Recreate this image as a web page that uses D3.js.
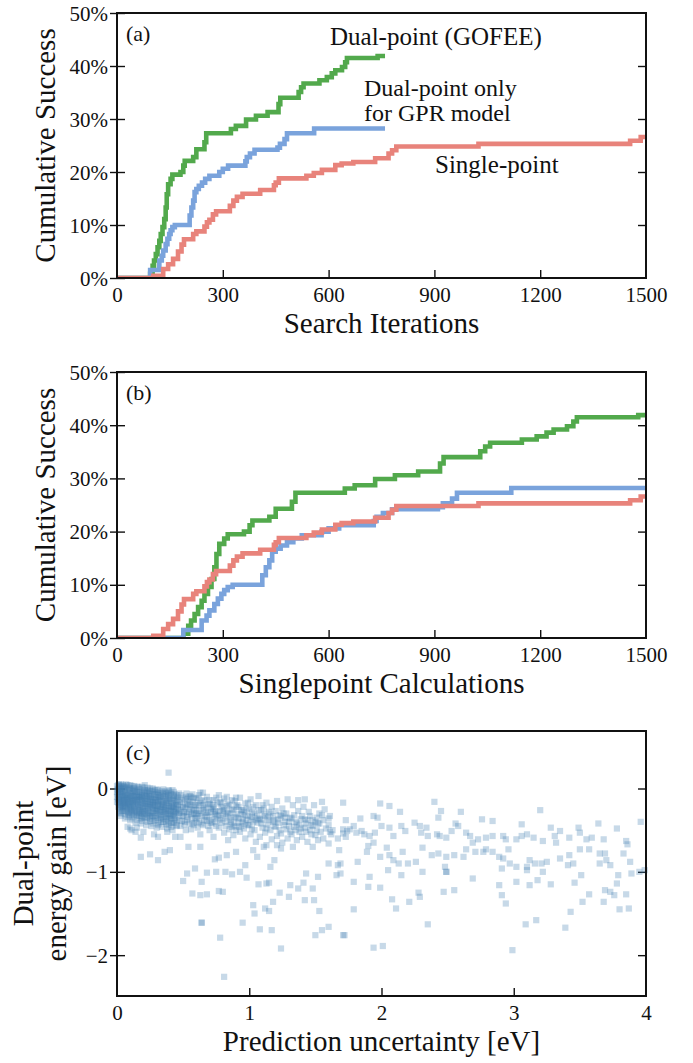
<!DOCTYPE html>
<html>
<head>
<meta charset="utf-8">
<script src="https://cdn.jsdelivr.net/npm/d3@7"></script>
<style>
  body { margin: 0; background: #fff; }
</style>
</head>
<body>
<svg id="fig" width="693" height="1063"></svg>
<script>
// success curves: [search iteration, cumulative success %]
let gofee = [[0,0],[86,0],[94,0.8],[101,2.3],[105,3.3],[110,4.5],[115,5.8],[120,7],[124,8.3],[129,9.6],[134,11.1],[138,13.3],[141,15.8],[145,17.7],[152,18.7],[157,19.5],[180,20],[188,21.2],[192,22.1],[216,22.8],[225,24.3],[248,25.6],[253,27.3],[323,28.1],[337,28.7],[366,29.9],[394,30.6],[427,31.3],[458,32.8],[463,34],[515,35.1],[522,36],[529,36.7],[574,37.3],[595,37.9],[609,38.6],[619,39.2],[638,39.8],[647,40.7],[652,41.5],[739,41.9],[760,41.9]];
let dualGpr = [[0,0],[89,0],[94,1.5],[120,3.3],[127,4.2],[131,5.2],[138,6.4],[143,7.4],[148,8.3],[152,9],[157,9.6],[164,10],[206,11.8],[211,13.3],[216,14.6],[220,16.2],[225,16.8],[232,17.4],[241,18],[250,18.7],[262,19.3],[290,20],[300,20.6],[315,21.2],[364,22],[368,22.8],[377,23.5],[390,24.2],[455,24.6],[462,25.3],[475,26.2],[482,27.3],[559,28.2],[760,28.2]];
let single = [[0,0],[94,0],[103,0.4],[131,1.7],[145,2.6],[159,3.6],[173,5],[183,6.3],[190,7.3],[216,8.3],[225,8.8],[248,9.7],[255,10.5],[262,11],[272,12],[281,12.6],[320,13.6],[330,14.6],[340,15.3],[356,15.9],[406,16.6],[445,17.5],[450,18],[459,18.8],[537,19.3],[558,19.8],[581,20.4],[619,21.3],[637,21.6],[670,21.9],[732,22.6],[770,23.5],[780,24.1],[792,24.8],[1025,25.3],[1455,25.9],[1485,26.6],[1500,26.6]];

let curves = [gofee, dualGpr, single];
let curveColors = ["#52a94c", "#7aa3dc", "#e8837b"];
// DFT singlepoints spent per search iteration (panel b)
let calcsPerIteration = [2, 2, 1];

let iterTicks = [0, 300, 600, 900, 1200, 1500];
let successTicks = [0, 10, 20, 30, 40, 50];
let uncertTicks = [0, 1, 2, 3, 4];
let gainTicks = [0, -1, -2];

// panel (c): [prediction uncertainty eV, dual-point energy gain eV]
let gainCore = [[0,.03],[0,-.04],[0,-.1],[0,-.16],
[.01,.04],[.01,-.02],[.01,-.08],[.01,-.12],[.01,-.17],[.01,-.22],
[.02,.02],[.02,-.05],[.02,-.1],[.02,-.15],[.02,-.2],[.02,-.26],
[.03,.05],[.03,-.01],[.03,-.07],[.03,-.13],[.03,-.19],[.03,-.24],[.03,-.3],
[.05,.03],[.05,-.04],[.05,-.09],[.05,-.14],[.05,-.21],[.05,-.27],
[.06,0],[.06,-.06],[.06,-.11],[.06,-.17],[.06,-.23],[.06,-.31],
[.08,.04],[.08,-.02],[.08,-.08],[.08,-.16],[.08,-.2],[.08,-.28],[.08,-.34],
[.1,.01],[.1,-.05],[.1,-.12],[.1,-.18],[.1,-.24],[.1,-.3],
[.11,.03],[.11,-.09],[.11,-.14],[.11,-.22],[.11,-.27],[.11,-.36],
[.13,0],[.13,-.06],[.13,-.11],[.13,-.19],[.13,-.25],[.13,-.32],
[.15,.02],[.15,-.04],[.15,-.1],[.15,-.16],[.15,-.21],[.15,-.29],[.15,-.38],
[.17,-.01],[.17,-.08],[.17,-.13],[.17,-.2],[.17,-.26],[.17,-.33],
[.19,.02],[.19,-.05],[.19,-.11],[.19,-.17],[.19,-.24],[.19,-.3],[.19,-.39],
[.21,-.02],[.21,-.09],[.21,-.15],[.21,-.21],[.21,-.28],[.21,-.35],
[.23,.01],[.23,-.06],[.23,-.12],[.23,-.19],[.23,-.25],[.23,-.32],[.23,-.4],
[.25,-.03],[.25,-.1],[.25,-.16],[.25,-.22],[.25,-.29],[.25,-.36],
[.27,0],[.27,-.07],[.27,-.13],[.27,-.2],[.27,-.27],[.27,-.33],[.27,-.42],
[.29,-.04],[.29,-.11],[.29,-.17],[.29,-.24],[.29,-.3],[.29,-.38],
[.31,-.02],[.31,-.08],[.31,-.14],[.31,-.21],[.31,-.27],[.31,-.35],[.31,-.44],
[.33,-.05],[.33,-.12],[.33,-.19],[.33,-.25],[.33,-.32],[.33,-.4],
[.35,-.01],[.35,-.09],[.35,-.16],[.35,-.22],[.35,-.29],[.35,-.37],
[.37,-.06],[.37,-.13],[.37,-.2],[.37,-.27],[.37,-.34],[.37,-.43],
[.39,-.03],[.39,-.1],[.39,-.17],[.39,-.24],[.39,-.31],[.39,-.39],
[.41,-.07],[.41,-.14],[.41,-.21],[.41,-.28],[.41,-.36],[.41,-.46],
[.43,-.04],[.43,-.11],[.43,-.18],[.43,-.25],[.43,-.33],[.43,-.41],
[.45,-.08],[.45,-.15],[.45,-.22],[.45,-.3],[.45,-.38],
[.005,-.06],[.015,-.13],[.025,-.03],[.035,-.16],[.04,-.09],[.045,-.22],[.055,-.12],[.065,-.03],[.07,-.19],[.075,-.25],
[.085,-.11],[.09,-.05],[.095,-.22],[.105,-.15],[.12,-.03],[.12,-.2],[.125,-.28],[.14,-.08],[.14,-.14],[.145,-.24],
[.16,-.06],[.16,-.18],[.165,-.3],[.18,-.1],[.18,-.22],[.2,-.13],[.2,-.27],[.22,-.04],[.22,-.17],[.24,-.09],
[.24,-.23],[.26,-.14],[.26,-.31],[.28,-.1],[.28,-.2],[.3,-.16],[.3,-.25],[.32,-.1],[.34,-.2],[.36,-.26],
[.38,-.15],[.4,-.32],[.42,-.22],[.44,-.28],[.02,-.29],[.04,0],[.07,-.13],[.09,-.32],[.12,-.09],[.18,-.35],
[.012,.01],[.018,-.07],[.022,-.18],[.028,.03],[.033,-.11],[.038,-.23],[.042,-.05],[.047,-.15],[.052,.01],[.057,-.19],
[.062,-.08],[.067,-.27],[.072,.02],[.077,-.1],[.082,-.17],[.087,-.24],[.092,-.01],[.097,-.13],[.102,-.21],[.107,-.07],
[.112,-.3],[.117,-.16],[.122,0],[.127,-.12],[.132,-.23],[.137,-.04],[.142,-.18],[.147,-.31],[.152,-.09],[.157,-.14],
[.162,-.26],[.167,0],[.172,-.11],[.177,-.19],[.182,-.29],[.187,-.06],[.192,-.14],[.197,-.22],[.202,-.34],[.207,-.03],
[.212,-.12],[.217,-.24],[.222,-.3],[.227,-.09],[.232,-.16],[.237,-.27],[.242,-.05],[.247,-.19],[.252,-.33],[.257,-.12],
[.262,-.23],[.267,-.03],[.272,-.17],[.277,-.29],[.282,-.07],[.287,-.21],[.292,-.35],[.297,-.13],[.302,-.26],[.307,-.05],
[.312,-.18],[.317,-.31],[.322,-.1],[.327,-.23],[.332,-.37],[.337,-.15],[.342,-.28],[.347,-.06],[.352,-.19],[.357,-.33],
[.362,-.11],[.367,-.24],[.372,-.4],[.377,-.17],[.382,-.3],[.387,-.08],[.392,-.21],[.397,-.36],[.402,-.12],[.407,-.26],
[.412,-.41],[.417,-.18],[.422,-.31],[.427,-.09],[.432,-.23],[.437,-.37],[.442,-.14],[.447,-.27],[.452,-.44],
[.015,.05],[.045,.04],[.07,.05],[.1,.04],[.13,.03],[.16,.02],[.2,.01],[.25,0],[.3,-.01],[.34,-.03],[.38,-.05],[.42,-.02],
[.03,-.33],[.06,-.36],[.1,-.38],[.14,-.41],[.18,-.42],[.22,-.44],[.26,-.45],[.3,-.47],[.34,-.46],[.38,-.48],[.42,-.5],
[.005,-.01],[.01,-.14],[.02,0],[.025,-.22],[.035,-.04],[.04,-.27],[.05,-.17],[.055,.02],[.06,-.14],[.065,-.21],
[.07,-.07],[.08,-.12],[.085,-.29],[.09,-.19],[.095,0],[.105,-.09],[.11,-.26],[.115,-.04],[.12,-.17],[.125,-.34],
[.13,-.15],[.135,-.27],[.14,-.02],[.15,-.13],[.155,-.33],[.16,-.22],[.165,-.1],[.17,-.04],[.175,-.28],[.18,-.15],
[.185,-.36],[.19,-.08],[.195,-.27],[.2,-.19],[.205,-.06],[.21,-.31],[.215,-.18],[.22,-.1],[.225,-.36],[.23,-.21],
[.235,-.02],[.24,-.29],[.245,-.13],[.25,-.39],[.255,-.07],[.26,-.2],[.265,-.34],[.27,-.16],[.275,-.24],[.28,-.39],
[.285,-.02],[.29,-.14],[.295,-.27],[.3,-.07],[.305,-.33],[.31,-.2],[.315,-.42],[.32,-.15],[.325,-.28],[.33,-.08],
[.335,-.35],[.34,-.22],[.345,-.13],[.35,-.4],[.355,-.26],[.36,-.04],[.365,-.31],[.37,-.18],[.375,-.09],[.38,-.36],
[.385,-.24],[.39,-.44],[.395,-.13],[.4,-.27],[.405,-.05],[.41,-.33],[.415,-.22],[.42,-.42],[.425,-.15],[.43,-.29],
[.435,-.07],[.44,-.35],[.445,-.2],[.45,-.45]];

let gainBand = [[.47,-.06],[.49,-.14],[.46,-.25],[.5,-.33],[.48,-.45],[.46,-.19],[.49,-.39],[.47,-.29],
[.52,-.1],[.54,-.19],[.51,-.28],[.53,-.38],[.52,-.5],[.55,-.24],[.53,-.13],[.51,-.43],
[.57,-.07],[.55,-.16],[.58,-.23],[.56,-.31],[.57,-.42],[.59,-.36],[.56,-.49],[.58,-.11],
[.61,-.12],[.6,-.2],[.62,-.27],[.6,-.36],[.61,-.47],[.63,-.17],[.62,-.4],[.6,-.3],
[.65,-.05],[.64,-.15],[.66,-.24],[.64,-.33],[.65,-.44],[.63,-.55],[.67,-.29],[.66,-.38],
[.68,-.1],[.7,-.19],[.69,-.29],[.68,-.39],[.7,-.5],[.71,-.24],[.69,-.45],
[.73,-.14],[.72,-.22],[.74,-.31],[.72,-.42],[.73,-.58],[.75,-.36],[.74,-.27],
[.77,-.08],[.76,-.18],[.78,-.27],[.75,-.45],[.77,-.47],[.79,-.22],[.78,-.38],
[.81,-.12],[.8,-.24],[.82,-.33],[.79,-.41],[.81,-.53],[.83,-.28],[.82,-.45],
[.85,-.2],[.84,-.3],[.86,-.38],[.85,-.49],[.84,-.62],[.87,-.25],[.86,-.43],
[.89,-.15],[.88,-.26],[.9,-.35],[.89,-.45],[.88,-.56],[.91,-.3],[.9,-.5],
[.93,-.11],[.92,-.22],[.94,-.31],[.92,-.41],[.93,-.52],[.95,-.36],[.94,-.45],
[.97,-.18],[.96,-.28],[.98,-.38],[.96,-.48],[.97,-.6],[.99,-.33],[.98,-.24],
[1.01,-.13],[1,-.25],[1.02,-.34],[1,-.44],[1.01,-.55],[1.03,-.4],[1.02,-.29],
[1.05,-.2],[1.04,-.3],[1.06,-.41],[1.04,-.5],[1.05,-.64],[1.07,-.36],
[1.09,-.26],[1.08,-.37],[1.1,-.47],[1.08,-.58],[1.11,-.31],[1.1,-.2],
[1.13,-.17],[1.12,-.33],[1.14,-.43],[1.12,-.53],[1.13,-.68],[1.15,-.38],
[1.17,-.22],[1.16,-.3],[1.18,-.4],[1.16,-.5],[1.17,-.61],[1.19,-.45],
[1.21,-.15],[1.2,-.27],[1.22,-.37],[1.2,-.46],[1.21,-.57],[1.23,-.32],
[1.25,-.24],[1.24,-.33],[1.26,-.44],[1.24,-.54],[1.25,-.65],[1.27,-.4],
[1.29,-.13],[1.28,-.3],[1.3,-.4],[1.28,-.49],[1.29,-.6],[1.31,-.35],
[1.33,-.2],[1.32,-.36],[1.34,-.46],[1.32,-.55],[1.33,-.7],[1.35,-.5],
[1.37,-.27],[1.36,-.42],[1.38,-.52],[1.36,-.62],[1.39,-.37],
[1.41,-.22],[1.4,-.33],[1.42,-.47],[1.4,-.58],[1.43,-.52],
[1.45,-.28],[1.44,-.38],[1.46,-.5],[1.44,-.64],[1.47,-.44],
[1.49,-.2],[1.48,-.45],[1.5,-.56],[1.48,-.7],[1.51,-.5],
[1.53,-.3],[1.52,-.42],[1.54,-.52],[1.52,-.62],
[1.57,-.25],[1.56,-.38],[1.58,-.48],[1.56,-.6],
[1.61,-.33],[1.6,-.44],[1.62,-.55],[1.6,-.66],
[.46,-.1],[.5,-.22],[.53,-.31],[.55,-.09],[.58,-.3],[.6,-.41],[.62,-.08],[.65,-.2],[.67,-.34],[.7,-.14],
[.71,-.41],[.73,-.25],[.75,-.11],[.76,-.33],[.79,-.17],[.8,-.3],[.83,-.21],[.85,-.35],[.87,-.14],[.88,-.41],
[.9,-.22],[.92,-.36],[.95,-.26],[.97,-.42],[.99,-.17],[1.01,-.37],[1.03,-.22],[1.06,-.33],[1.09,-.42],[1.11,-.24],
[1.14,-.35],[1.18,-.33],[1.22,-.41],[1.26,-.3],[1.3,-.45],[1.34,-.32],[1.38,-.44],[1.42,-.37],[1.46,-.33],[1.5,-.4],
[.455,-.12],[.46,-.2],[.465,-.3],[.47,-.38],[.475,-.16],[.48,-.26],[.485,-.08],[.49,-.33],[.495,-.22],[.5,-.12],
[.505,-.29],[.51,-.18],[.515,-.4],[.52,-.24],[.525,-.06],[.53,-.2],[.535,-.34],[.54,-.12],[.545,-.28],[.55,-.42],
[.555,-.2],[.56,-.1],[.565,-.36],[.57,-.26],[.575,-.16],[.58,-.44],[.585,-.3],[.59,-.2],[.595,-.12],[.6,-.26],
[.61,-.33],[.62,-.2],[.63,-.3],[.64,-.42],[.65,-.26],[.66,-.14],[.67,-.22],[.68,-.32],[.69,-.18],[.7,-.38],
[.71,-.28],[.72,-.34],[.73,-.2],[.74,-.4],[.75,-.28],
[.77,-.32],[.78,-.16],[.8,-.36],[.81,-.26],[.83,-.4],[.84,-.18],[.86,-.3],[.87,-.46],[.89,-.34],[.91,-.2],
[.92,-.46],[.94,-.26],[.95,-.4],[.97,-.32],[.99,-.44],
[1.02,-.48],[1.05,-.38],[1.07,-.26],[1.1,-.38],[1.13,-.48],[1.15,-.28],[1.19,-.38],[1.23,-.5],[1.27,-.35],[1.31,-.52],
[1.35,-.4],[1.39,-.48],[1.43,-.42],[1.47,-.55],[1.51,-.35],
[.08,-.46],[.1,-.48],[.2,-.52],[.28,-.55],[.38,-.52],[.44,-.58],[.21,.04],[.39,.19],[.39,-.02],
[.63,-.05],[.83,-.1],[.9,-.11],[1.07,-.09],[1.37,-.14],[1.42,-.13],[1.55,-.16],
[1.63,-.5],[1.71,-.54],[1.73,-.58],[1.67,-.6],[1.61,-.52],[1.73,-.38],[1.6,-.36],[1.53,-.42],[1.55,-.32],[1.48,-.38]];

let gainSparse = [[.15,-.47],[.18,-.59],[.25,-.79],[.31,-.86],[.36,-.76],[.4,-.74],[.5,-1.11],[.53,-1.02],[.59,-.96],
[.57,-1.26],[.63,-1.28],[.68,-1.27],[.64,-1.12],[.68,-1.01],[.75,-1],[.74,-.85],[.77,-.83],[.82,-1],[.87,-1.03],
[.93,-1],[.98,-1.07],[.97,-.92],[.77,-1.23],[.8,-1.24],[.64,-1.61],[.64,-1.61],[.78,-1.79],[.81,-2.26],[.95,-1.61],
[1.03,-1.4],[1.04,-1.5],[1.07,-1.15],[1.08,-1.69],[1.12,-1.44],[1.13,-1.14],[1.15,-1.13],[1.17,-1.7],[1.18,-1.36],
[1.15,-1.47],[1.23,-1.25],[1.24,-1.92],[1.3,-1.3],[1.31,-1.16],[1.37,-1.2],[1.41,-1.13],[1.43,-1.02],[1.42,-1.34],
[1.49,-1.34],[1.48,-1.2],[1.52,-1.06],[1.53,-1.47],[1.5,-1.76],[1.55,-1.7],[1.6,-1.66],[1.66,-1.04],[1.67,-.92],
[1.71,-1.76],[1.6,-.9],[1.68,-.74],[1.16,-.94],[1.19,-.86],[1.24,-.72],[1.21,-.68],[1.06,-.82],[1.11,-.7],[.9,-.76],
[.83,-.8],[1.03,-.74],[.54,-.7],[.63,-.7],[.48,-.58],[.31,-.58],[.18,-.82],[.11,-.5],[.14,-.52]];

let gainTail = [[1.71,-.17],[1.99,-.18],[2.06,-.21],[2.14,-.28],[2.4,-.16],[2.45,-.27],[2.6,-.28],[3.2,-.26],[2.43,-.35],
[2.56,-.42],[2.76,-.37],[2.84,-.39],[3.06,-.43],[3.28,-.47],[3.35,-.51],[3.49,-.47],[3.64,-.42],[3.78,-.48],[3.96,-.4],
[1.84,-.36],[1.94,-.33],[1.97,-.35],[1.79,-.45],[1.71,-.49],[1.74,-.51],[1.76,-.49],[1.81,-.53],[1.85,-.51],[1.87,-.55],
[1.91,-.57],[1.95,-.53],[2,-.45],[2.06,-.47],[2.09,-.57],[2.15,-.45],[2.18,-.51],[2.25,-.41],[2.29,-.45],[2.34,-.47],
[2.3,-.53],[2.35,-.57],[2.42,-.55],[2.44,-.57],[2.49,-.59],[2.53,-.51],[2.58,-.45],[2.64,-.53],[2.67,-.57],[2.69,-.65],
[2.73,-.61],[2.79,-.59],[2.84,-.57],[2.92,-.57],[2.94,-.61],[3.02,-.61],[3.06,-.57],[3.1,-.55],[3.15,-.59],[3.22,-.63],
[3.31,-.57],[3.32,-.65],[3.42,-.59],[3.5,-.53],[3.55,-.61],[3.59,-.59],[3.68,-.61],[3.85,-.63],[3.86,-.67],
[1.69,-.9],[1.82,-.88],[1.89,-.76],[1.9,-.69],[1.94,-.65],[1.99,-.82],[2.04,-.71],[2.06,-.8],[2.09,-.86],[2.13,-.9],
[2.16,-.76],[2.2,-.9],[2.26,-.88],[2.31,-.71],[2.38,-.8],[2.43,-.78],[2.49,-.82],[2.55,-.8],[2.62,-.82],[2.64,-.73],
[2.71,-.76],[2.77,-.76],[2.79,-.73],[2.84,-.76],[2.89,-.82],[2.92,-.84],[2.96,-.73],[2.97,-.9],[3.02,-.94],[3.1,-.94],
[3.12,-.86],[3.16,-.9],[3.21,-.9],[3.25,-.88],[3.35,-.84],[3.42,-.8],[3.41,-.92],[3.45,-.9],[3.5,-.73],[3.51,-1.04],
[3.57,-.73],[3.65,-.9],[3.69,-.78],[3.7,-.86],[3.73,-.92],[3.83,-.78],[3.88,-.88],[3.89,-1.02],[3.95,-1],[3.99,-.98],
[3.79,-1.04],[3.78,-1.14],[3.65,-.78],[3.22,-1],[3.1,-.98],[3.02,-1.12],[2.91,-.96],[2.69,-1.08],[2.49,-1],[2.49,-1],
[2.48,-.94],[2.31,-1],[2.15,-1.04],[2.05,-.98],[1.91,-1.06],[1.79,-1.12],[1.69,-1.02],
[1.9,-1.18],[1.99,-1.19],[2.08,-1.33],[2.11,-1.44],[2.21,-1.36],[2.28,-1.25],[2.29,-1.3],[2.47,-1.24],[2.55,-1.22],
[2.89,-1.16],[2.91,-1.28],[2.94,-1.38],[3.12,-1.16],[3.18,-1.1],[3.28,-1.15],[3.46,-1.13],[3.52,-1.36],[3.57,-1.27],
[3.68,-1.36],[3.69,-1.22],[3.73,-1.24],[3.76,-1.28],[3.8,-1.45],[3.85,-1.27],[3.87,-1.44],[1.79,-1.45],[1.72,-1.76],
[1.94,-1.91],[2.01,-1.89],[2.35,-1.63],[2.99,-1.94],[3.09,-1.63],[3.17,-1.58],[3.39,-1.67],[3.43,-1.48]];

let serif = "'Liberation Serif', 'DejaVu Serif', 'Times New Roman', serif";
let ink = "#111";

let svg = d3.select("#fig").attr("font-family", serif);
svg.append("rect").attr("width", 693).attr("height", 1063).attr("fill", "#fff");

let left = 117, right = 646;

// draws ticks and tick labels for one panel
function drawFrame(top, bottom, x, y, xTicks, yTicks, yFmt) {
    let g = svg.append("g");

    let ax = g.append("g")
        .attr("transform", "translate(0," + bottom + ")")
        .call(d3.axisBottom(x).tickValues(xTicks).tickFormat(d3.format("d"))
            .tickSizeInner(-8).tickSizeOuter(0).tickPadding(9));
    ax.select(".domain").remove();
    // no tick marks on the frame corners
    ax.selectAll(".tick line").filter(d => d === x.domain()[0] || d === x.domain()[1]).remove();

    let ay = g.append("g")
        .attr("transform", "translate(" + left + ",0)")
        .call(d3.axisLeft(y).tickValues(yTicks).tickFormat(yFmt)
            .tickSizeInner(-8).tickSizeOuter(0).tickPadding(9));
    ay.selectAll("text").attr("dy", "0.34em");
    ay.selectAll(".tick line").attr("x1", -7);
    ay.select(".domain").remove();

    let ar = g.append("g")
        .attr("transform", "translate(" + right + ",0)")
        .call(d3.axisRight(y).tickValues(yTicks).tickFormat("").tickSizeInner(-8).tickSizeOuter(0));
    ar.select(".domain").remove();
    ar.selectAll(".tick line").filter(d => d === y.domain()[0] || d === y.domain()[1]).remove();

    g.selectAll("g").attr("font-family", serif).attr("font-size", 21);
    g.selectAll("text").attr("fill", ink);
    g.selectAll(".tick line").attr("stroke", ink).attr("stroke-width", 1.4);
    return g;
}

function drawBox(top, bottom) {
    svg.append("rect")
        .attr("x", left).attr("y", top)
        .attr("width", right - left).attr("height", bottom - top)
        .attr("fill", "none").attr("stroke", ink).attr("stroke-width", 2);
}

function addText(x, y, size, txt) {
    return svg.append("text").attr("x", x).attr("y", y)
        .attr("font-family", serif).attr("font-size", size).attr("fill", ink).text(txt);
}

function yLabel(lines, cy) {
    lines.forEach(t => {
        svg.append("text")
            .attr("transform", "translate(" + t.x + "," + cy + ") rotate(-90)")
            .attr("text-anchor", "middle")
            .attr("font-family", serif).attr("font-size", 29).attr("fill", ink)
            .text(t.s);
    });
}

function xLabel(txt, bottom) {
    addText((left + right) / 2, bottom + 55, 29, txt).attr("text-anchor", "middle");
}

// ---------- panels (a) and (b) ----------
let successPanels = [
    {top: 13, bottom: 278, label: "(a)", xTitle: "Search Iterations", cost: false},
    {top: 372, bottom: 638, label: "(b)", xTitle: "Singlepoint Calculations", cost: true}
];

successPanels.forEach((p, pi) => {
    let x = d3.scaleLinear().domain([0, 1500]).range([left, right]);
    let y = d3.scaleLinear().domain([0, 50]).range([p.bottom, p.top]);

    drawFrame(p.top, p.bottom, x, y, iterTicks, successTicks, d => d + "%");

    let clipId = "clip" + pi;
    svg.append("clipPath").attr("id", clipId)
        .append("rect").attr("x", left).attr("y", p.top - 3)
        .attr("width", right - left).attr("height", p.bottom - p.top + 3);

    curves.forEach((c, i) => {
        let k = p.cost ? calcsPerIteration[i] : 1;
        let line = d3.line()
            .curve(d3.curveStepAfter)
            .x(d => x(d[0] * k))
            .y(d => y(d[1]));
        svg.append("path")
            .attr("d", line(c))
            .attr("clip-path", "url(#" + clipId + ")")
            .attr("fill", "none")
            .attr("stroke", curveColors[i])
            .attr("stroke-width", 4.6);
    });

    drawBox(p.top, p.bottom);
    addText(126, p.top + 28, 22, p.label);
    yLabel([{x: 55, s: "Cumulative Success"}], (p.top + p.bottom) / 2);
    xLabel(p.xTitle, p.bottom);
});

// curve annotations in (a)
addText(330, 45, 25, "Dual-point (GOFEE)");
addText(364, 96, 24, "Dual-point only");
addText(364, 121, 24, "for GPR model");
addText(435, 173, 25, "Single-point");

// ---------- panel (c) ----------
let cTop = 731, cBottom = 996;
let xc = d3.scaleLinear().domain([0, 4]).range([left, right]);
let yc = d3.scaleLinear().domain([-2.49, 0.69]).range([cBottom, cTop]);

drawFrame(cTop, cBottom, xc, yc, uncertTicks, gainTicks, d3.format("d"));

let pts = gainCore.concat(gainBand, gainSparse, gainTail);
let sq = 6.2;
svg.append("g").selectAll("rect")
    .data(pts)
    .enter()
    .append("rect")
    .attr("x", d => xc(d[0]) - sq / 2)
    .attr("y", d => yc(d[1]) - sq / 2)
    .attr("width", sq)
    .attr("height", sq)
    .attr("fill", "steelblue")
    .attr("fill-opacity", 0.3);

drawBox(cTop, cBottom);
addText(126, cTop + 29, 22, "(c)");
yLabel([{x: 33, s: "Dual-point"}, {x: 66, s: "energy gain [eV]"}], (cTop + cBottom) / 2);
xLabel("Prediction uncertainty [eV]", cBottom);
</script>
</body>
</html>
